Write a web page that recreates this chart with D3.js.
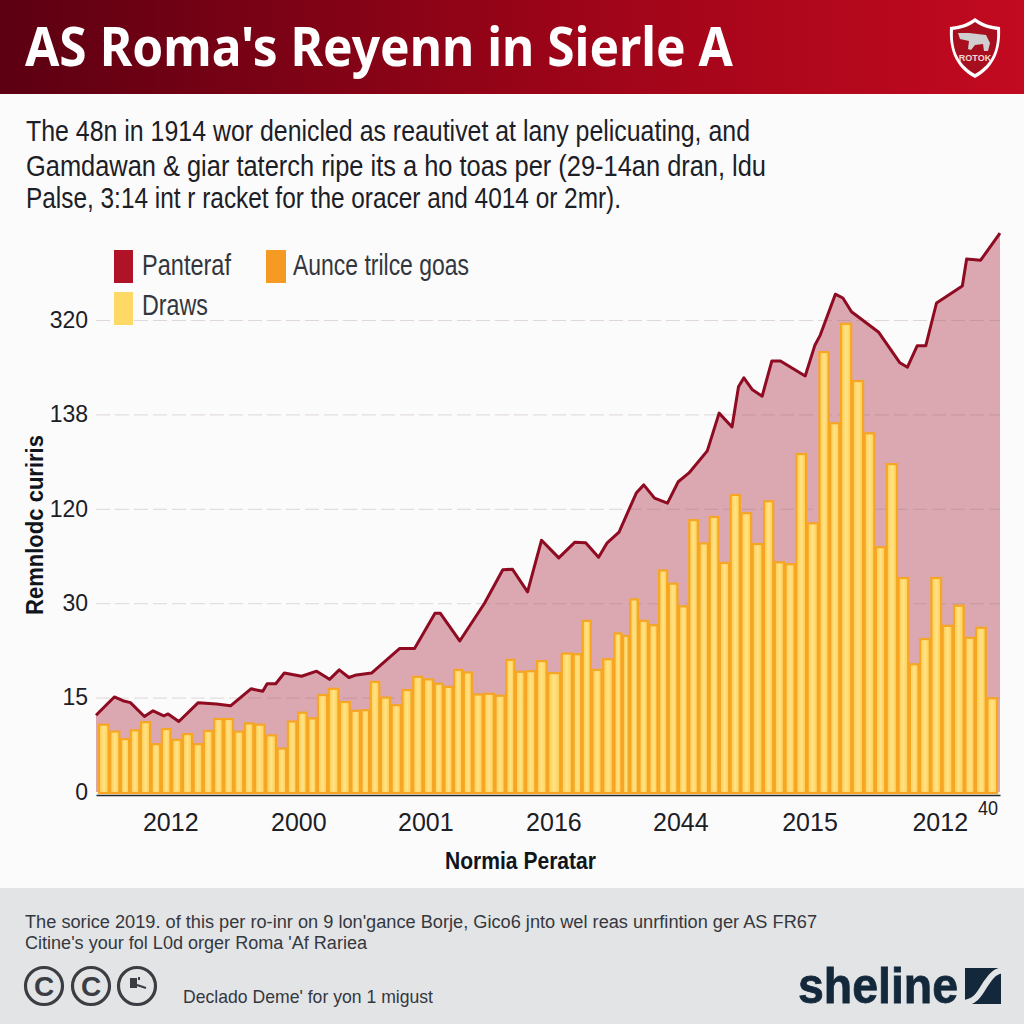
<!DOCTYPE html>
<html>
<head>
<meta charset="utf-8">
<title>AS Roma's Reyenn in Sierle A</title>
<script src="https://cdn.jsdelivr.net/npm/d3@7"></script>
<style>
  html, body { margin: 0; padding: 0; background: #fbfbfc; }
  svg { display: block; }
  text { font-family: "Liberation Sans Narrow", "Liberation Sans", sans-serif; }
</style>
</head>
<body>
<div id="chart"></div>
<script>
// bars sit a little unevenly in the picture, so each has its own period
const barPeriods = [
  0.7, 1.8, 2.7, 3.6, 4.6, 5.6, 6.5, 7.5, 8.5, 9.5, 10.4, 11.4, 12.3, 13.3, 14.2,
  15.2, 16.3, 17.3, 18.2, 19.2, 20.1, 21.0, 22.1, 23.1, 24.2, 25.0, 25.9, 26.9,
  27.9, 28.9, 29.9, 30.9, 31.9, 32.7, 33.7, 34.5, 35.5, 36.5, 37.6, 38.5, 39.4,
  40.4, 41.4, 42.5, 43.9, 44.7, 45.6, 46.5, 47.6, 48.6, 49.2, 49.95, 50.9, 51.8,
  52.7, 53.6, 54.6, 55.5, 56.5, 57.4, 58.4, 59.4, 60.4, 61.5, 62.5, 63.5, 64.5,
  65.5, 66.6, 67.7, 68.6, 69.7, 70.8, 71.9, 72.9, 73.9, 75.1, 76.0, 77.0, 78.1,
  79.1, 80.2, 81.2, 82.2, 83.3
];
// bar heights, in grid units (one gridline = 15)
const drawsValues = [
  10.7, 9.6, 8.4, 9.8, 11.1, 7.6, 10.0, 8.3, 9.2, 7.6, 9.7, 11.6, 11.6, 9.6,
  10.9, 10.7, 9.0, 6.9, 11.2, 12.6, 11.7, 15.4, 16.4, 14.3, 12.9, 13.0, 17.5,
  15.0, 13.8, 16.2, 18.3, 17.9, 17.2, 16.7, 19.4, 19.0, 15.5, 15.6, 15.3, 21.0,
  19.1, 19.2, 20.8, 18.9, 22.0, 21.9, 27.2, 19.4, 21.1, 25.2, 24.8, 30.6, 27.2,
  26.5, 35.2, 33.1, 29.5, 43.2, 39.5, 43.7, 36.4, 47.2, 44.3, 39.4, 46.2, 36.5,
  36.2, 53.7, 42.7, 69.9, 58.6, 74.4, 65.3, 57.0, 38.9, 52.1, 34.0, 20.3, 24.3,
  34.0, 26.4, 29.6, 24.5, 26.1, 14.9
];

// the line has uneven vertices too
const linePeriods = [
  0, 1.7, 2.5, 3.2, 4.5, 5.3, 6.3, 6.7, 7.7, 9.5, 11.2, 12.5, 14.4, 15.5, 15.9,
  16.7, 17.5, 19.1, 20.5, 21.7, 22.6, 23.5, 24.2, 25.6, 28.2, 29.6, 31.5, 32.0,
  33.8, 36.1, 37.8, 38.7, 40.1, 40.7, 41.4, 43.0, 44.5, 45.5, 46.7, 47.5, 48.6,
  50.2, 50.9, 51.9, 53.1, 54.1, 55.1, 56.8, 57.9, 59.1, 59.7, 60.2, 61.0, 61.9,
  62.8, 63.6, 65.9, 66.8, 67.3, 68.7, 69.4, 70.2, 72.7, 74.7, 75.4, 76.3, 77.1,
  78.1, 80.5, 80.9, 82.2, 84
];
const lineValues = [
  12.2, 15.1, 14.5, 14.2, 12.0, 12.9, 12.1, 12.4, 11.2, 14.2, 14.0, 13.7, 16.4,
  16.0, 17.2, 17.2, 18.9, 18.4, 19.2, 17.9, 19.4, 18.2, 18.6, 18.9, 22.8, 22.8,
  28.4, 28.4, 24.0, 30.0, 35.3, 35.4, 31.8, 35.6, 40.0, 37.2, 39.7, 39.6, 37.3,
  39.6, 41.3, 47.5, 48.8, 46.7, 45.9, 49.3, 50.7, 54.2, 60.2, 58.0, 64.4, 65.8,
  63.9, 62.9, 68.5, 68.5, 66.1, 71.0, 72.6, 79.1, 78.5, 76.3, 73.1, 68.2, 67.5,
  70.9, 70.9, 77.7, 80.4, 84.7, 84.5, 88.8
];

const yTicks = [0, 15, 30, 45, 60, 75];
const yTickLabels = ["0", "15", "30", "120", "138", "320"];
const xTicks = [6.9, 18.8, 30.6, 42.5, 54.3, 66.3, 78.4];
const xTickLabels = ["2012", "2000", "2001", "2016", "2044", "2015", "2012"];

const titleText = "AS Roma's Reyenn in Sierle A";
const introLines = [
  "The 48n in 1914 wor denicled as reautivet at lany pelicuating, and",
  "Gamdawan & giar taterch ripe its a ho toas per (29-14an dran, ldu",
  "Palse, 3:14 int r racket for the oracer and 4014 or 2mr)."
];
const sourceLines = [
  "The sorice 2019. of this per ro-inr on 9 lon'gance Borje, Gico6 jnto wel reas unrfintion ger AS FR67",
  "Citine's your fol L0d orger Roma 'Af Rariea"
];

const width = 1024, height = 1024;
const plotLeft = 96, plotRight = 1000, baseline = 792, plotTop = 320;

const svg = d3.select("#chart").append("svg")
  .attr("width", width)
  .attr("height", height);

svg.append("rect").attr("width", width).attr("height", height).attr("fill", "#fbfbfc");

const defs = svg.append("defs");
const grad = defs.append("linearGradient").attr("id", "head");
grad.append("stop").attr("offset", "0%").attr("stop-color", "#5c0012");
grad.append("stop").attr("offset", "55%").attr("stop-color", "#9c0418");
grad.append("stop").attr("offset", "100%").attr("stop-color", "#c20a20");

const barGrad = defs.append("linearGradient").attr("id", "bar");
barGrad.append("stop").attr("offset", "0%").attr("stop-color", "#fecb4f");
barGrad.append("stop").attr("offset", "50%").attr("stop-color", "#ffe386");
barGrad.append("stop").attr("offset", "100%").attr("stop-color", "#fecb4f");

// fits a text to the width it has in the picture
function label(g, txt, x, y, size, len, opts = {}) {
  return g.append("text")
    .attr("x", x).attr("y", y)
    .attr("font-size", size)
    .attr("font-weight", opts.weight || 400)
    .attr("fill", opts.fill || "#1c2026")
    .style("font-family", opts.family || null)
    .attr("textLength", len)
    .attr("lengthAdjust", "spacingAndGlyphs")
    .text(txt);
}

// header
svg.append("rect").attr("width", width).attr("height", 94).attr("fill", "url(#head)");
label(svg, titleText, 25, 66, 54, 708, { weight: 700, fill: "#fff", family: '"Noto Sans", sans-serif' });

const crest = svg.append("g").attr("transform", "translate(975,48)");
crest.append("path")
  .attr("d", "M0,-30 C8,-24 16,-22 25,-21 C26,-2 22,18 0,30 C-22,18 -26,-2 -25,-21 C-16,-22 -8,-24 0,-30Z")
  .attr("fill", "#fff");
crest.append("path")
  .attr("d", "M0,-26 C7,-21 14,-19 22,-18 C23,-1 19,15 0,26 C-19,15 -23,-1 -22,-18 C-14,-19 -7,-21 0,-26Z")
  .attr("fill", "#a80f1e");
crest.append("path")
  .attr("d", "M-17,-15 L-6,-15 L11,-13 L15,-5 L13,3 L9,3 L8,-4 L0,-3 L-4,2 L-7,1 L-6,-7 L-15,-9Z")
  .attr("fill", "#cfcfcf");
crest.append("text")
  .attr("x", 0).attr("y", 13)
  .attr("text-anchor", "middle")
  .attr("font-size", 9)
  .attr("font-weight", 700)
  .attr("fill", "#f0d8d8")
  .text("ROTOK");

// intro text
label(svg, introLines[0], 26, 141, 29, 724);
label(svg, introLines[1], 26, 176, 29, 740);
label(svg, introLines[2], 26, 208, 29, 595);

// scales
const x = d3.scaleLinear().domain([0, 84]).range([plotLeft, plotRight]);
const y = d3.scaleLinear().domain([0, 75]).range([baseline, plotTop]);

const linePoints = linePeriods.map((p, i) => [p, lineValues[i]]);

// area first, gridlines show faintly through it
svg.append("path")
  .datum(linePoints)
  .attr("fill", "#a3132a")
  .attr("fill-opacity", 0.36)
  .attr("d", d3.area().x(d => x(d[0])).y0(baseline).y1(d => y(d[1])));

const grid = svg.append("g")
  .attr("transform", `translate(${plotLeft},0)`)
  .call(d3.axisLeft(y).tickValues(yTicks.slice(1)).tickSize(-(plotRight - plotLeft)).tickFormat(""));
grid.select(".domain").remove();
grid.selectAll("line")
  .attr("stroke", "#8f6a70")
  .attr("stroke-opacity", 0.25)
  .attr("stroke-dasharray", "14 5");

// each bar reaches halfway to its neighbours, so no gap shows at the base
function barEdges(i) {
  const p = barPeriods[i];
  const prev = i > 0 ? barPeriods[i - 1] : p - 1;
  const next = i < barPeriods.length - 1 ? barPeriods[i + 1] : p + 1;
  return [x((prev + p) / 2), x((p + next) / 2)];
}

svg.append("g").selectAll("rect")
  .data(drawsValues)
  .enter()
  .append("rect")
  .attr("x", (d, i) => barEdges(i)[0] + 0.8)
  .attr("y", d => y(d))
  .attr("width", (d, i) => barEdges(i)[1] - barEdges(i)[0] - 1.6)
  .attr("height", d => baseline - y(d) + 1)
  .attr("fill", "url(#bar)")
  .attr("stroke", "#f6a623")
  .attr("stroke-width", 2.2);

svg.append("path")
  .datum(linePoints)
  .attr("fill", "none")
  .attr("stroke", "#8e0b22")
  .attr("stroke-width", 3)
  .attr("stroke-linejoin", "round")
  .attr("d", d3.line().x(d => x(d[0])).y(d => y(d[1])));

// axes
const yAxis = svg.append("g")
  .attr("transform", `translate(${plotLeft},0)`)
  .call(d3.axisLeft(y).tickValues(yTicks).tickSize(0).tickPadding(8)
    .tickFormat((d, i) => yTickLabels[i]));
yAxis.select(".domain").remove();
yAxis.selectAll("text").attr("font-size", 23).attr("fill", "#1c2026")
  .style("font-family", '"Liberation Sans Narrow", "Liberation Sans", sans-serif');

const xAxis = svg.append("g")
  .attr("transform", "translate(0,795)")
  .call(d3.axisBottom(x).tickValues(xTicks).tickSize(0).tickPadding(18)
    .tickFormat((d, i) => xTickLabels[i]));
xAxis.select(".domain").attr("stroke", "#23262b").attr("stroke-width", 1.5);
xAxis.selectAll("text").attr("font-size", 25).attr("fill", "#1c2026")
  .style("font-family", '"Liberation Sans Narrow", "Liberation Sans", sans-serif');

label(svg, "40", 978, 815, 20, 20);
label(svg, "Normia Peratar", 445, 869, 24, 151, { weight: 700, fill: "#10151c" });
svg.append("text")
  .attr("transform", "translate(43,525) rotate(-90)")
  .attr("text-anchor", "middle")
  .attr("font-size", 23)
  .attr("font-weight", 700)
  .attr("fill", "#10151c")
  .attr("textLength", 180)
  .attr("lengthAdjust", "spacingAndGlyphs")
  .text("Remnlodc curiris");

// legend
const legendSwatches = svg.append("g");
legendSwatches.append("rect").attr("x", 114).attr("y", 250).attr("width", 19).attr("height", 33).attr("fill", "#b01228");
legendSwatches.append("rect").attr("x", 266).attr("y", 250).attr("width", 20).attr("height", 33).attr("fill", "#f59a23");
legendSwatches.append("rect").attr("x", 114).attr("y", 292).attr("width", 19).attr("height", 33).attr("fill", "#ffd966");
label(svg, "Panteraf", 142, 275, 29, 89, { fill: "#33373d" });
label(svg, "Aunce trilce goas", 293, 275, 29, 176, { fill: "#33373d" });
label(svg, "Draws", 142, 315, 29, 66, { fill: "#33373d" });

// footer
svg.append("rect").attr("y", 888).attr("width", width).attr("height", 136).attr("fill", "#e3e4e6");
label(svg, sourceLines[0], 25, 928, 18, 792, { fill: "#34383e" });
label(svg, sourceLines[1], 25, 949, 18, 342, { fill: "#34383e" });

const badgeGlyphs = ["C", "C", ""];
const badgeCentres = [44, 91, 137];
const badge = svg.append("g").selectAll("g")
  .data(badgeGlyphs)
  .enter()
  .append("g")
  .attr("transform", (d, i) => `translate(${badgeCentres[i]},986)`);
badge.append("circle").attr("r", 18.5).attr("fill", "none").attr("stroke", "#3a3d42").attr("stroke-width", 3.2);
badge.append("text")
  .attr("text-anchor", "middle")
  .attr("y", 10)
  .attr("font-size", 28)
  .attr("font-weight", 700)
  .attr("fill", "#3a3d42")
  .style("font-family", '"Liberation Sans", sans-serif')
  .text(d => d);
// third badge has a small pictogram instead of a letter
const pictogram = svg.append("g").attr("transform", "translate(137,986)");
pictogram.append("rect").attr("x", -7).attr("y", -8).attr("width", 7).attr("height", 10).attr("fill", "#3a3d42");
pictogram.append("path").attr("d", "M0,-1 L9,2 M2,-9 L2,-6").attr("stroke", "#3a3d42").attr("stroke-width", 2).attr("fill", "none");

label(svg, "Declado Deme' for yon 1 migust", 183, 1003, 19, 250, { fill: "#34383e" });
label(svg, "sheline", 798, 1003, 50, 160, { weight: 700, fill: "#14283c", family: '"Liberation Sans", sans-serif' })
  .attr("stroke", "#14283c").attr("stroke-width", 0.8);
svg.append("rect").attr("x", 965).attr("y", 968).attr("width", 36).attr("height", 36).attr("fill", "#14283c");
svg.append("path")
  .attr("d", "M962,1003 C978,1003 982,988 987,982 C992,975 995,971 1004,970")
  .attr("fill", "none")
  .attr("stroke", "#e3e4e6")
  .attr("stroke-width", 6);
</script>
</body>
</html>
